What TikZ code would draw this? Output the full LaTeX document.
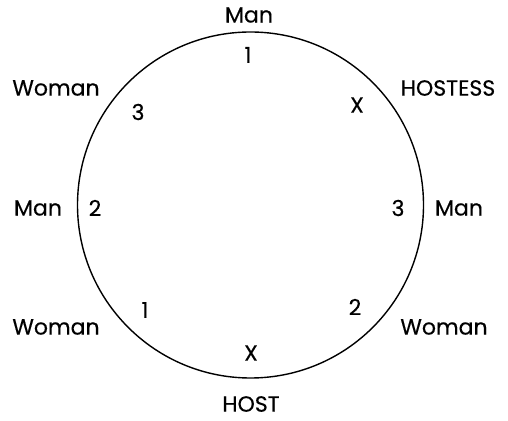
\documentclass[tikz,border=0pt]{standalone}
\usepackage{fontspec}
\setmainfont{Poppins}[UprightFeatures={FakeBold=0.4}]
\usepackage{tikz}

\begin{document}
\begin{tikzpicture}[x=1pt,y=1pt,
    guest/.style={inner sep=0pt, font=\fontsize{22}{24}\selectfont},
    seat/.style={inner sep=0pt, font=\fontsize{22}{24}\selectfont}]
    \useasboundingbox (0,0) rectangle (508,420);
    \coordinate (c) at (250.5,215);
    \draw[line width=1.4pt] (c) circle (173);

    \node (mt)[guest] at (249,405) {Man};
    \node (wtl)[guest] at (56,332) {Woman};
    \node (hs)[guest] at (448,332) {HOSTESS};
    \node (ml)[guest] at (38,212) {Man};
    \node (mr)[guest] at (459,212) {Man};
    \node (wbl)[guest] at (56,93) {Woman};
    \node (wbr)[guest] at (444,93) {Woman};
    \node (h)[guest] at (251,16) {HOST};

    \node (s1t)[seat] at (248,365) {1};
    \node (s3l)[seat] at (138,308) {3};
    \node (sxr)[seat] at (357,315) {X};
    \node (s2l)[seat] at (95,212) {2};
    \node (s3r)[seat] at (398,212) {3};
    \node (s1b)[seat] at (145,110) {1};
    \node (s2b)[seat] at (355,113) {2};
    \node (sxb)[seat] at (251,67) {X};
\end{tikzpicture}
\end{document}
